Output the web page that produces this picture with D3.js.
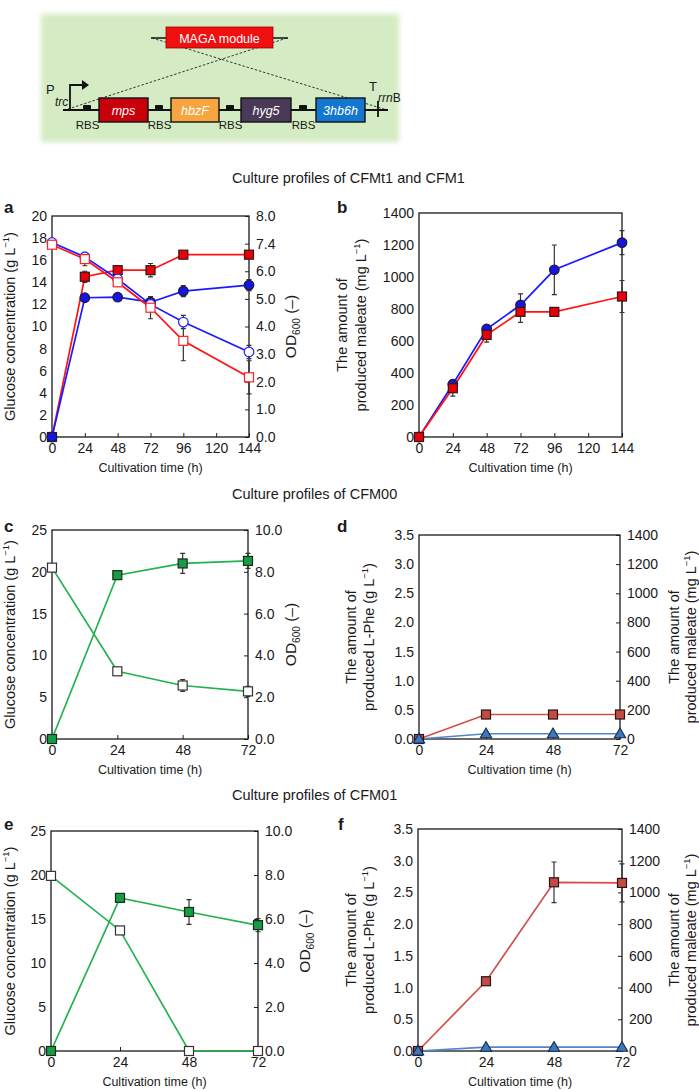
<!DOCTYPE html>
<html><head><meta charset="utf-8">
<script src="https://cdn.jsdelivr.net/npm/d3@7"></script>
<style>
body{margin:0;background:#fff}
svg{display:block}
text{font-family:"Liberation Sans",Arial,Helvetica,sans-serif;fill:#1a1a1a}
</style>
</head><body>
<svg id="chart" width="699" height="1091"></svg>
<script>
// ---------------- DATA ----------------
const timeAB = [0, 24, 48, 72, 96, 144];
const xTicksAB = [0, 24, 48, 72, 96, 120, 144];
const timeCF = [0, 24, 48, 72];
const xTicksCF = [0, 24, 48, 72];

// panel a (glucose, g/L, left axis; OD600, right axis)
const glcBlue = [17.6, 16.3, 14.3, 12.0, 10.4, 7.7];
const glcBlueErr = [0.2, 0.2, 0.2, 0.2, 0.6, 0.6];
const glcRed = [17.4, 16.1, 14.0, 11.7, 8.7, 5.4];
const glcRedErr = [0.2, 0.6, 0.2, 1.0, 1.8, 1.5];
const odBlue = [0, 5.04, 5.06, 4.88, 5.28, 5.5];
const odBlueErr = [0, 0.05, 0.05, 0.2, 0.2, 0.2];
const odRed = [0, 5.8, 6.04, 6.04, 6.6, 6.6];
const odRedErr = [0, 0.2, 0.05, 0.24, 0.05, 0.05];
const odLabelsA = ["0.0", "1.0", "2.0", "3.0", "4.0", "5.0", "6.0", "7.4", "8.0"];

// panel b (maleate, mg/L)
const malBlue = [0, 330, 675, 825, 1045, 1215];
const malBlueErr = [0, 20, 15, 70, 155, 75];
const malRed = [0, 305, 638, 782, 782, 878];
const malRedErr = [0, 50, 45, 65, 10, 100];

// panel c (CFM00)
const glcC = [20.5, 8.1, 6.4, 5.7];
const glcCErr = [0.2, 0.4, 0.7, 0.6];
const odC = [0, 7.84, 8.4, 8.52];
const odCErr = [0, 0.16, 0.48, 0.36];

// panel d (CFM00)
const pheD = [0, 0.42, 0.42, 0.42];
const pheDErr = [0, 0.02, 0.02, 0.02];
const malD = [0, 36, 36, 36];

// panel e (CFM01)
const glcE = [19.9, 13.7, 0, 0];
const glcEErr = [0.2, 0.2, 0, 0];
const odE = [0, 6.96, 6.32, 5.72];
const odEErr = [0, 0.08, 0.56, 0.3];

// panel f (CFM01)
const pheF = [0, 1.1, 2.66, 2.65];
const pheFErr = [0, 0.03, 0.32, 0.3];
const malF = [0, 24, 24, 24];

// ---------------- DRAWING ----------------
const svg = d3.select("#chart");
const FONT = '"Liberation Sans",Arial,Helvetica,sans-serif';

function rich(g, x, y, rot, parts, size, anchor) {
  const t = g.append("text")
    .attr("transform", `translate(${x},${y}) rotate(${rot})`)
    .attr("text-anchor", anchor || "middle")
    .attr("font-size", size);
  let shift = 0;
  parts.forEach(p => {
    const ts = t.append("tspan").text(p.t);
    let target = 0;
    if (p.sup) { ts.attr("font-size", size * 0.65); target = -size * 0.42; }
    if (p.sub) { ts.attr("font-size", size * 0.65); target = size * 0.28; }
    ts.attr("dy", target - shift);
    shift = target;
  });
  return t;
}

// ---- top diagram ----
(function diagram() {
  const defs = svg.append("defs");
  defs.append("filter").attr("id", "soft").attr("x", "-10%").attr("y", "-10%")
    .attr("width", "120%").attr("height", "120%")
    .append("feGaussianBlur").attr("stdDeviation", 2.5);
  const g = svg.append("g");
  g.append("rect").attr("x", 41).attr("y", 14).attr("width", 358).attr("height", 128)
    .attr("fill", "#d4ebc3").attr("filter", "url(#soft)");
  // MAGA module
  g.append("line").attr("x1", 151).attr("x2", 288).attr("y1", 38).attr("y2", 38)
    .attr("stroke", "#111").attr("stroke-width", 1.5);
  g.append("line").attr("x1", 152).attr("y1", 38).attr("x2", 387).attr("y2", 110)
    .attr("stroke", "#222").attr("stroke-width", 0.9).attr("stroke-dasharray", "2.5,1.8");
  g.append("line").attr("x1", 287).attr("y1", 38).attr("x2", 68).attr("y2", 109)
    .attr("stroke", "#222").attr("stroke-width", 0.9).attr("stroke-dasharray", "2.5,1.8");
  g.append("rect").attr("x", 166).attr("y", 27).attr("width", 107).attr("height", 21)
    .attr("fill", "#f01010").attr("stroke", "#9a0000").attr("stroke-width", 0.8);
  g.append("text").attr("x", 219.5).attr("y", 42.5).attr("text-anchor", "middle")
    .attr("font-size", 12.5).style("fill", "#fff").text("MAGA module");
  // main line
  g.append("line").attr("x1", 63).attr("x2", 388).attr("y1", 110).attr("y2", 110)
    .attr("stroke", "#111").attr("stroke-width", 1.8);
  // promoter
  g.append("path").attr("d", "M70,110V85H83").attr("fill", "none")
    .attr("stroke", "#111").attr("stroke-width", 1.8);
  g.append("path").attr("d", "M82,80L89,85L82,90Z").attr("fill", "#111");
  g.append("text").attr("x", 46).attr("y", 94).attr("font-size", 13).text("P");
  g.append("text").attr("x", 55).attr("y", 106).attr("font-size", 12)
    .attr("font-style", "italic").text("trc");
  // genes
  const genes = [
    {n: "mps", x0: 99, x1: 148, c: "#c8000a"},
    {n: "hbzF", x0: 171, x1: 219, c: "#f7a540"},
    {n: "hyg5", x0: 241, x1: 291, c: "#4a3a58"},
    {n: "3hb6h", x0: 316, x1: 365, c: "#1477cf"}
  ];
  const rbs = [87, 159, 230, 303];
  rbs.forEach(cx => {
    g.append("rect").attr("x", cx - 4).attr("y", 105).attr("width", 8).attr("height", 5)
      .attr("rx", 1).attr("fill", "#111");
    g.append("text").attr("x", cx + 0.5).attr("y", 128.5).attr("text-anchor", "middle")
      .attr("font-size", 11.5).text("RBS");
  });
  genes.forEach(d => {
    g.append("rect").attr("x", d.x0).attr("y", 98).attr("width", d.x1 - d.x0).attr("height", 24)
      .attr("fill", d.c).attr("stroke", "#111").attr("stroke-width", 1.4);
    g.append("text").attr("x", (d.x0 + d.x1) / 2).attr("y", 114.5).attr("text-anchor", "middle")
      .attr("font-size", 12.5).attr("font-style", "italic").style("fill", "#fff").text(d.n);
  });
  // terminator
  g.append("line").attr("x1", 378).attr("x2", 378).attr("y1", 101).attr("y2", 117)
    .attr("stroke", "#111").attr("stroke-width", 1.8);
  g.append("text").attr("x", 369).attr("y", 91).attr("font-size", 13).text("T");
  const tt = g.append("text").attr("x", 378).attr("y", 102).attr("font-size", 12);
  tt.append("tspan").attr("font-style", "italic").text("rrn");
  tt.append("tspan").text("B");
})();

// ---- chart panels ----
function panel(cfg) {
  const g = svg.append("g");
  const x = d3.scaleLinear().domain(cfg.xDomain).range([cfg.x0, cfg.x1]);
  const yL = d3.scaleLinear().domain(cfg.yL).range([cfg.y1, cfg.y0]);
  const yR = cfg.yR ? d3.scaleLinear().domain(cfg.yR).range([cfg.y1, cfg.y0]) : null;

  // axes
  const ax = g.append("g").attr("transform", `translate(0,${cfg.y1})`)
    .call(d3.axisBottom(x).tickValues(cfg.xTicks).tickSize(-4).tickPadding(6).tickFormat(d3.format("d")));
  const al = g.append("g").attr("transform", `translate(${cfg.x0},0)`)
    .call(d3.axisLeft(yL).tickValues(cfg.yLTicks).tickSize(0).tickPadding(5)
      .tickFormat(cfg.yLFormat || d3.format("d")));
  const axes = [ax, al];
  if (yR) {
    const ar = g.append("g").attr("transform", `translate(${cfg.x1},0)`)
      .call(d3.axisRight(yR).tickValues(cfg.yRTicks).tickSize(-4).tickPadding(7)
        .tickFormat(cfg.yRFormat));
    axes.push(ar);
  }
  axes.forEach(a => {
    a.select(".domain").remove();
    a.selectAll("text").attr("font-size", 14).attr("font-family", FONT).style("fill", "#1a1a1a");
    a.selectAll("line").attr("stroke", "#222").attr("stroke-width", 1);
  });
  // frame
  g.append("rect").attr("x", cfg.x0).attr("y", cfg.y0)
    .attr("width", cfg.x1 - cfg.x0).attr("height", cfg.y1 - cfg.y0)
    .attr("fill", "none").attr("stroke", "#1a1a1a").attr("stroke-width", 1.3);

  // series
  const clipG = g.append("g");
  cfg.series.forEach(s => {
    const y = s.axis === "R" ? yR : yL;
    const pts = s.xs.map((t, i) => ({t, v: s.ys[i], e: s.err ? s.err[i] : 0}));
    clipG.append("path").datum(pts)
      .attr("d", d3.line().x(d => x(d.t)).y(d => y(d.v)))
      .attr("fill", "none").attr("stroke", s.line).attr("stroke-width", 1.7);
    s._pts = pts; s._y = y;
  });
  cfg.series.forEach(s => {
    const y = s._y;
    s._pts.filter(d => d.e > 0).forEach(d => {
      const yt = y(d.v + d.e), yb = y(d.v - d.e), cx = x(d.t);
      clipG.append("path")
        .attr("d", `M${cx},${yt}V${yb}M${cx - 2.5},${yt}H${cx + 2.5}M${cx - 2.5},${yb}H${cx + 2.5}`)
        .attr("fill", "none").attr("stroke", "#333").attr("stroke-width", 1.2);
    });
  });
  cfg.series.forEach(s => {
    const y = s._y;
    s._pts.forEach(d => {
      const cx = x(d.t), cy = y(d.v);
      if (s.shape === "square") {
        clipG.append("rect").attr("x", cx - 4.5).attr("y", cy - 4.5).attr("width", 9).attr("height", 9)
          .attr("fill", s.fill).attr("stroke", s.stroke).attr("stroke-width", 1.2);
      } else if (s.shape === "circle") {
        clipG.append("circle").attr("cx", cx).attr("cy", cy).attr("r", 4.8)
          .attr("fill", s.fill).attr("stroke", s.stroke).attr("stroke-width", 1.2);
      } else {
        clipG.append("path").attr("d", d3.symbol(d3.symbolTriangle, 55)())
          .attr("transform", `translate(${cx},${cy + 0.8})`)
          .attr("fill", s.fill).attr("stroke", s.stroke).attr("stroke-width", 1.1);
      }
    });
  });

  // titles
  const cy = (cfg.y0 + cfg.y1) / 2;
  g.append("text").attr("x", (cfg.x0 + cfg.x1) / 2).attr("y", cfg.y1 + 35)
    .attr("text-anchor", "middle").attr("font-size", 12.5).text("Cultivation time (h)");
  cfg.leftTitle.forEach(l => rich(g, l.x, cy, -90, l.parts, l.size || 14.5));
  (cfg.rightTitle || []).forEach(l => rich(g, l.x, cy, -90, l.parts, l.size || 14.5));
  g.append("text").attr("x", cfg.letter[0]).attr("y", cfg.letter[1])
    .attr("font-size", 17).attr("font-weight", "bold").text(cfg.letterText);
}

const glucoseTitle = [{t: "Glucose concentration (g L"}, {t: "\u22121", sup: true}, {t: ")"}];
const odTitle = [{t: "OD"}, {t: "600", sub: true}, {t: " (\u2013)"}];
const malTitle = [{t: "produced maleate (mg L"}, {t: "\u22121", sup: true}, {t: ")"}];
const pheTitle = [{t: "produced L-Phe (g L"}, {t: "\u22121", sup: true}, {t: ")"}];
const amountTitle = [{t: "The amount of"}];

const RED = {line: "#ff1414"}, BLUE = {line: "#1a1aff"}, GREEN = "#22b24f";

// section titles
[["Culture profiles of CFMt1 and CFM1", 183], ["Culture profiles of CFM00", 499],
 ["Culture profiles of CFM01", 800]].forEach(([t, y]) => {
  svg.append("text").attr("x", 232).attr("y", y).attr("font-size", 14.5).text(t);
});

// a
panel({
  x0: 52, x1: 249, y0: 216, y1: 437, xDomain: [0, 144], xTicks: xTicksAB,
  yL: [0, 20], yLTicks: d3.range(0, 21, 2),
  yR: [0, 8], yRTicks: d3.range(0, 9, 1), yRFormat: (d, i) => odLabelsA[i],
  letter: [4, 213], letterText: "a",
  leftTitle: [{x: 15, parts: glucoseTitle}], rightTitle: [{x: 296, parts: odTitle, size: 15.5}],
  series: [
    {xs: timeAB, ys: odRed, err: odRedErr, axis: "R", line: RED.line, shape: "square", fill: "#e8000b", stroke: "#3a1515"},
    {xs: timeAB, ys: odBlue, err: odBlueErr, axis: "R", line: BLUE.line, shape: "circle", fill: "#1616e0", stroke: "#1a1a3a"},
    {xs: timeAB, ys: glcBlue, err: glcBlueErr, axis: "L", line: BLUE.line, shape: "circle", fill: "#fff", stroke: "#2424ff"},
    {xs: timeAB, ys: glcRed, err: glcRedErr, axis: "L", line: RED.line, shape: "square", fill: "#fff", stroke: "#ff2020"}
  ]
});

// b
panel({
  x0: 419, x1: 622, y0: 213, y1: 437, xDomain: [0, 144], xTicks: xTicksAB,
  yL: [0, 1400], yLTicks: d3.range(0, 1401, 200),
  letter: [337, 213], letterText: "b",
  leftTitle: [{x: 347, parts: amountTitle}, {x: 366, parts: malTitle}],
  series: [
    {xs: timeAB, ys: malBlue, err: malBlueErr, axis: "L", line: BLUE.line, shape: "circle", fill: "#1616e0", stroke: "#1a1a3a"},
    {xs: timeAB, ys: malRed, err: malRedErr, axis: "L", line: RED.line, shape: "square", fill: "#e8000b", stroke: "#3a1515"}
  ]
});

// c
panel({
  x0: 52, x1: 248, y0: 530, y1: 739, xDomain: [0, 72], xTicks: xTicksCF,
  yL: [0, 25], yLTicks: d3.range(0, 26, 5),
  yR: [0, 10], yRTicks: d3.range(0, 11, 2), yRFormat: d3.format(".1f"),
  letter: [4, 532], letterText: "c",
  leftTitle: [{x: 15, parts: glucoseTitle}], rightTitle: [{x: 296, parts: odTitle, size: 15.5}],
  series: [
    {xs: timeCF, ys: odC, err: odCErr, axis: "R", line: GREEN, shape: "square", fill: "#179c46", stroke: "#1c2a1c"},
    {xs: timeCF, ys: glcC, err: glcCErr, axis: "L", line: GREEN, shape: "square", fill: "#fff", stroke: "#333"}
  ]
});

// d
panel({
  x0: 419, x1: 620, y0: 535, y1: 739, xDomain: [0, 72], xTicks: xTicksCF,
  yL: [0, 3.5], yLTicks: d3.range(0, 3.51, 0.5), yLFormat: d3.format(".1f"),
  yR: [0, 1400], yRTicks: d3.range(0, 1401, 200), yRFormat: d3.format("d"),
  letter: [337, 532], letterText: "d",
  leftTitle: [{x: 356, parts: amountTitle}, {x: 374, parts: pheTitle}],
  rightTitle: [{x: 679, parts: amountTitle}, {x: 696, parts: malTitle}],
  series: [
    {xs: timeCF, ys: pheD, err: pheDErr, axis: "L", line: "#d24f4b", shape: "square", fill: "#c44a46", stroke: "#2a1414"},
    {xs: timeCF, ys: malD, axis: "R", line: "#4f87c9", shape: "tri", fill: "#3a79c2", stroke: "#1a2840"}
  ]
});

// e
panel({
  x0: 51, x1: 258, y0: 831, y1: 1051, xDomain: [0, 72], xTicks: xTicksCF,
  yL: [0, 25], yLTicks: d3.range(0, 26, 5),
  yR: [0, 10], yRTicks: d3.range(0, 11, 2), yRFormat: d3.format(".1f"),
  letter: [4, 830], letterText: "e",
  leftTitle: [{x: 15, parts: glucoseTitle}], rightTitle: [{x: 310, parts: odTitle, size: 15.5}],
  series: [
    {xs: timeCF, ys: odE, err: odEErr, axis: "R", line: GREEN, shape: "square", fill: "#179c46", stroke: "#1c2a1c"},
    {xs: timeCF, ys: glcE, err: glcEErr, axis: "L", line: GREEN, shape: "square", fill: "#fff", stroke: "#333"}
  ]
});

// f
panel({
  x0: 418, x1: 622, y0: 829, y1: 1051, xDomain: [0, 72], xTicks: xTicksCF,
  yL: [0, 3.5], yLTicks: d3.range(0, 3.51, 0.5), yLFormat: d3.format(".1f"),
  yR: [0, 1400], yRTicks: d3.range(0, 1401, 200), yRFormat: d3.format("d"),
  letter: [338, 830], letterText: "f",
  leftTitle: [{x: 356, parts: amountTitle}, {x: 374, parts: pheTitle}],
  rightTitle: [{x: 679, parts: amountTitle}, {x: 696, parts: malTitle}],
  series: [
    {xs: timeCF, ys: pheF, err: pheFErr, axis: "L", line: "#d24f4b", shape: "square", fill: "#c44a46", stroke: "#2a1414"},
    {xs: timeCF, ys: malF, axis: "R", line: "#4f87c9", shape: "tri", fill: "#3a79c2", stroke: "#1a2840"}
  ]
});
</script>
</body></html>
